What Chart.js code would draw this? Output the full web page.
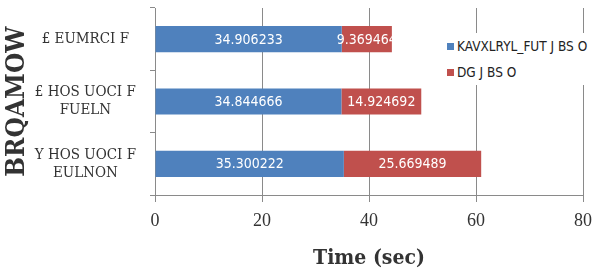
<!DOCTYPE html>
<html>
<head>
<meta charset="utf-8">
<script src="https://cdn.jsdelivr.net/npm/chart.js@4/dist/chart.umd.min.js"></script>
<style>
  html, body { margin: 0; padding: 0; background: #fff; }
  #wrap { position: relative; width: 597px; height: 272px; }
  canvas { display: block; }
  #legend { position: absolute; left: 444px; top: 33px; background: #fff; padding: 0 3px; font-family: 'DejaVu Sans Condensed', 'Liberation Sans Narrow', sans-serif; font-size: 13.5px; color: #222; line-height: 26px; white-space: nowrap; }
  #legend .sw { display: inline-block; width: 7px; height: 7px; margin-right: 3px; vertical-align: middle; position: relative; top: -1px; }
</style>
</head>
<body>
<div id="wrap">
  <canvas id="c" width="597" height="272"></canvas>
  <div id="legend"></div>
</div>
<script>
const categories = ["£ EUMRCI F", ["£ HOS UOCI F", "FUELN"], ["Y HOS UOCI F", "EULNON"]];
const seriesNames = ["KAVXLRYL_FUT J BS O", "DG J BS O"];
const blueValues = [34.906233, 34.844666, 35.300222];
const redValues = [9.369464, 14.924692, 25.669489];
const xTicks = [0, 20, 40, 60, 80];
const xTitle = "Time (sec)";
const yTitle = "BRQAMOW";
const colors = ["#4F81BD", "#C0504D"];

const labelFont = "14px 'DejaVu Sans Condensed', 'Liberation Sans Narrow', sans-serif";

const barLabels = {
  id: 'barLabels',
  afterDatasetsDraw(chart) {
    const ctx = chart.ctx;
    chart.data.datasets.forEach((ds, di) => {
      const meta = chart.getDatasetMeta(di);
      meta.data.forEach((bar, i) => {
        const p = bar.getProps(['x', 'y', 'base', 'height'], true);
        const left = Math.min(p.x, p.base), right = Math.max(p.x, p.base);
        ctx.save();
        ctx.beginPath();
        ctx.rect(0, p.y - p.height / 2, right, p.height);
        ctx.clip();
        ctx.font = labelFont;
        ctx.fillStyle = '#fff';
        ctx.textAlign = 'center';
        ctx.textBaseline = 'middle';
        ctx.fillText(String(ds.data[i]), (left + right) / 2, p.y + 1);
        ctx.restore();
      });
    });
  }
};

const chart = new Chart(document.getElementById('c'), {
  type: 'bar',
  data: {
    labels: categories,
    datasets: [
      { label: seriesNames[0], data: blueValues, backgroundColor: colors[0] },
      { label: seriesNames[1], data: redValues, backgroundColor: colors[1] }
    ]
  },
  options: {
    indexAxis: 'y',
    responsive: false,
    animation: false,
    layout: { padding: { top: 8, right: 14, bottom: 0, left: 0 } },
    barPercentage: 0.42,
    categoryPercentage: 1,
    plugins: { legend: { display: false }, tooltip: { enabled: false } },
    scales: {
      x: {
        stacked: true,
        min: 0, max: 80,
        afterBuildTicks(scale) { scale.ticks = xTicks.map(v => ({ value: v })); },
        afterFit(scale) { scale.height = 77; scale.paddingLeft = 0; scale.paddingRight = 0; },
        grid: { color: '#8a8a8a', tickLength: 7, drawTicks: true },
        border: { color: '#8a8a8a' },
        ticks: { color: '#333', padding: 8, font: { family: "'Liberation Serif', serif", size: 18 } },
        title: { display: true, text: xTitle, color: '#333', padding: { top: 0, bottom: 1 },
                 font: { family: "'DejaVu Serif Condensed', 'Liberation Serif', serif", size: 21, weight: 'bold' } }
      },
      y: {
        stacked: true,
        afterFit(scale) { scale.width = 155; scale.paddingTop = 0; scale.paddingBottom = 0; },
        grid: { drawOnChartArea: false, tickLength: 5, color: '#8a8a8a' },
        border: { color: '#8a8a8a' },
        ticks: { color: '#333', padding: 14, crossAlign: 'center',
                 font: { family: "'DejaVu Serif Condensed', 'Liberation Serif', serif", size: 15 } },
        title: { display: true, text: yTitle, color: '#333', padding: { top: 2, bottom: 0 },
                 font: { family: "'DejaVu Serif Condensed', 'Liberation Serif', serif", size: 26, weight: 'bold' } }
      }
    }
  },
  plugins: [barLabels]
});

const lg = document.getElementById('legend');
chart.data.datasets.forEach(ds => {
  const row = document.createElement('div');
  row.innerHTML = '<span class="sw" style="background:' + ds.backgroundColor + '"></span>' + ds.label;
  lg.appendChild(row);
});
</script>
</body>
</html>
